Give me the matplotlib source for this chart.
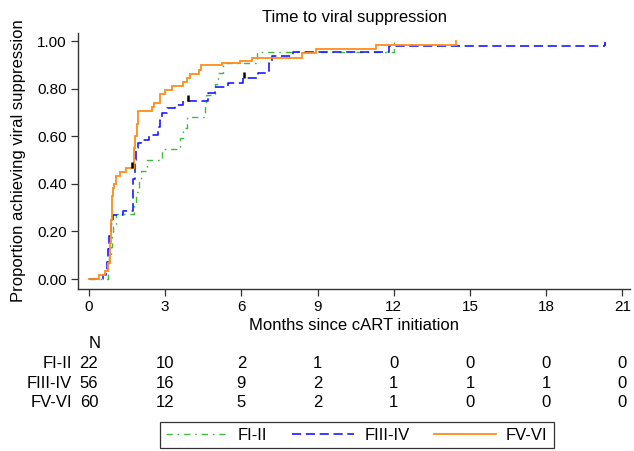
import matplotlib
matplotlib.use("Agg")
import matplotlib.pyplot as plt
import matplotlib.transforms as mtransforms
from matplotlib.path import Path
import numpy as np

plt.rcParams['font.family'] = ['Liberation Sans', 'DejaVu Sans']

# ---------------- data ----------------
title = "Time to viral suppression"
xlabel = "Months since cART initiation"
ylabel = "Proportion achieving viral suppression"
groups = ["FI-II", "FIII-IV", "FV-VI"]

t_g1 = [0, 0.74, 0.80, 0.85, 0.90, 0.95, 1.05, 1.78, 1.85, 1.95, 2.05, 2.28, 2.86,
        3.58, 3.72, 3.85, 4.57, 4.60, 4.96, 5.06, 5.29, 6.63, 12.0]
v_g1 = [0, 0.045, 0.091, 0.136, 0.182, 0.227, 0.273, 0.318, 0.364, 0.409, 0.455, 0.500, 0.545,
        0.591, 0.636, 0.682, 0.727, 0.773, 0.818, 0.864, 0.909, 0.955, 1.0]
end_g1 = 12.0
cens_g1 = []

t_g2 = [0, 0.55, 0.65, 0.70, 0.75, 0.80, 0.86, 0.95, 1.35, 1.75, 1.80, 1.86, 1.93, 2.03,
        2.37, 2.70, 2.78, 2.87, 3.08, 3.38, 3.70, 4.70, 4.96, 5.47, 6.08, 6.67, 7.07,
        7.20, 8.05, 11.80]
v_g2 = [0, 0.018, 0.036, 0.07, 0.125, 0.18, 0.232, 0.268, 0.286, 0.42, 0.50, 0.55, 0.57, 0.584,
        0.605, 0.64, 0.67, 0.699, 0.717, 0.731, 0.75, 0.78, 0.805, 0.822, 0.846, 0.867, 0.906,
        0.937, 0.955, 0.98]
end_g2 = 20.33
cens_g2 = [3.89, 6.10]

t_g3 = [0, 0.41, 0.63, 0.75, 0.82, 0.86, 0.90, 0.96, 1.00, 1.06, 1.22, 1.45, 1.76, 1.82,
        1.88, 1.94, 2.47, 2.56, 2.80, 2.99, 3.26, 3.69, 3.85, 3.98, 4.35, 4.40, 5.23,
        5.95, 6.41, 8.38, 8.94, 11.31, 14.46]
v_g3 = [0, 0.017, 0.033, 0.067, 0.15, 0.25, 0.35, 0.383, 0.40, 0.433, 0.45, 0.467, 0.55, 0.60,
        0.65, 0.707, 0.724, 0.741, 0.777, 0.794, 0.811, 0.828, 0.843, 0.861, 0.878, 0.899, 0.906,
        0.915, 0.931, 0.948, 0.966, 0.983, 1.0]
end_g3 = 14.46
cens_g3 = [1.69]

risk_times = [0, 3, 6, 9, 12, 15, 18, 21]
risk_g1 = [22, 10, 2, 1, 0, 0, 0, 0]
risk_g2 = [56, 16, 9, 2, 1, 1, 1, 0]
risk_g3 = [60, 12, 5, 2, 1, 0, 0, 0]

xticks = [0, 3, 6, 9, 12, 15, 18, 21]
yticks = [0.0, 0.2, 0.4, 0.6, 0.8, 1.0]

colors = ["#3dbb3d", "#1a1aff", "#ff8c1a"]

# ---------------- figure ----------------
W, H = 634, 451
fig = plt.figure(figsize=(W / 100, H / 100), dpi=100)
ax = fig.add_axes([78 / W, 1 - 289 / H, (630 - 78) / W, (289 - 33) / H])
ax.set_xlim(-0.433, 21.3)
ax.set_ylim(-0.042, 1.034)

styles = [
    dict(color=colors[0], lw=1.0, dashes=(4.5, 3.5, 1.2, 3.5)),
    dict(color=colors[1], lw=1.2, dashes=(5.5, 2.8)),
    dict(color=colors[2], lw=1.3, linestyle='-'),
]

tick_path = Path([(0, 0), (0, 1)], [Path.MOVETO, Path.LINETO])

series = [(t_g1, v_g1, end_g1, cens_g1), (t_g2, v_g2, end_g2, cens_g2), (t_g3, v_g3, end_g3, cens_g3)]
handles = []
for (t, v, end, cens), st, name in zip(series, styles, groups):
    tt = list(t) + [end]
    vv = list(v) + [v[-1]]
    h, = ax.step(tt, vv, where='post', label=name, solid_joinstyle='miter', **st)
    handles.append(h)
    if cens:
        cv = [v[np.searchsorted(t, c, side='right') - 1] for c in cens]
        ax.plot(cens, cv, linestyle='none', marker=tick_path, markersize=9,
                markeredgewidth=1.8, color='black')
    if name == "FIII-IV":
        ax.plot([end], [v[-1]], linestyle='none', marker=tick_path, markersize=6,
                markeredgewidth=1.3, color=colors[1])

ax.set_xticks(xticks)
ax.set_yticks(yticks)
ax.set_yticklabels([f"{y:.2f}" for y in yticks])
for s in ['top', 'right']:
    ax.spines[s].set_visible(False)
for s in ['left', 'bottom']:
    ax.spines[s].set_color('#333333')
    ax.spines[s].set_linewidth(1.0)
ax.tick_params(direction='out', length=5, width=0.9, colors='#333333', labelcolor='black',
               labelsize=11, pad=3)
ax.set_title(title, fontsize=12, pad=8)
ax.set_xlabel(xlabel, fontsize=12, labelpad=3)
ax.set_ylabel(ylabel, fontsize=12, labelpad=8)

# ---------------- risk table ----------------
trans = mtransforms.blended_transform_factory(ax.transData, fig.transFigure)
fs = 12
fig.text(0, 1 - 344 / H, "N", transform=trans, ha='left', va='center', fontsize=fs)
for row, (name, vals) in enumerate(zip(groups, [risk_g1, risk_g2, risk_g3])):
    y = 1 - (364 + row * 19.3) / H
    fig.text(72 / W, y, name, ha='right', va='center', fontsize=fs)
    for tx, n in zip(risk_times, vals):
        fig.text(tx, y, str(n), transform=trans, ha='center', va='center', fontsize=fs)

# ---------------- legend ----------------
leg = fig.legend(handles=handles, labels=groups, loc='center', ncol=3,
                 bbox_to_anchor=(357 / W, 1 - 435 / H), frameon=True, fancybox=False,
                 edgecolor='black', fontsize=fs, handlelength=3.7, columnspacing=1.5,
                 handletextpad=0.6, borderpad=0.35, borderaxespad=0)
leg.get_frame().set_linewidth(0.9)

fig.savefig("out.png", dpi=100)
